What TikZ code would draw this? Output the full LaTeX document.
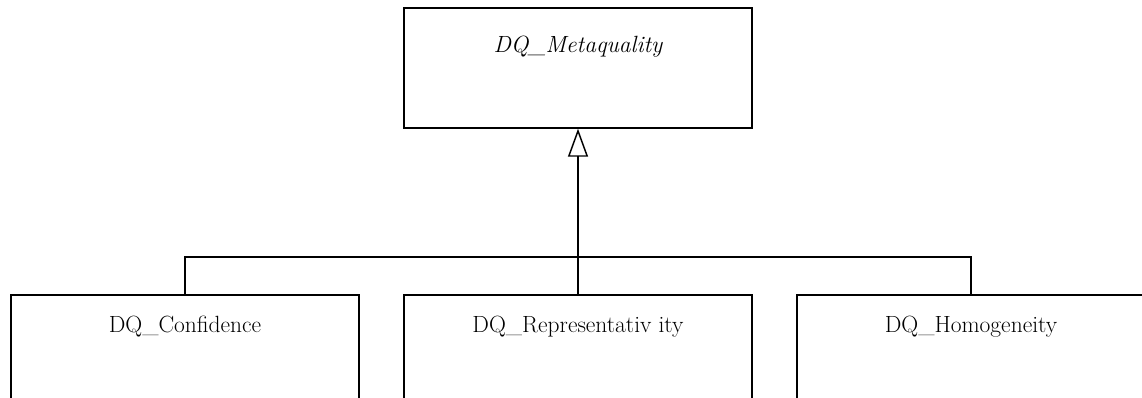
\documentclass[tikz,border=0pt]{standalone}
\usepackage{tikz}
\usetikzlibrary{arrows.meta}

\tikzset{
  classbox/.style={draw, line width=1.1pt, minimum width=348*0.75pt, minimum height=120*0.75pt, inner sep=0pt},
  classname/.style={anchor=base, inner sep=0.75pt, font=\fontsize{17.6}{20}\selectfont},
  genline/.style={line width=1.1pt},
  gentip/.style={-{Triangle[open, length=21pt, width=15pt, line width=1.1pt]}}
}

\begin{document}
\begin{tikzpicture}[x=0.75pt,y=0.75pt,yscale=-1,xscale=1]
        \useasboundingbox (0,0) rectangle (1142,398);
        \clip (0,0) rectangle (1142,398);
        
        %Shape: Rectangle [id:meta]
        \node [classbox] (meta) at (578,68) {};
        %Shape: Rectangle [id:conf]
        \node [classbox] (conf) at (185,355) {};
        %Shape: Rectangle [id:repr]
        \node [classbox] (repr) at (578,355) {};
        %Shape: Rectangle [id:homo]
        \node [classbox] (homo) at (971,355) {};
        
        %Straight Lines [id:junc]
        \coordinate (junc) at (578,257);
        \draw [genline] (conf.north) |- (junc) -| (homo.north);
        \draw [genline,gentip] (repr.north) -- (meta.south);
        
        % Text Node
        \node [classname] (metaname) at (578,53) {\itshape DQ\_Metaquality};
        % Text Node
        \node [classname] (confname) at (185,333) {DQ\_Confidence};
        % Text Node
        \node [classname] (reprname) at (578,333) {DQ\_Representativ ity};
        % Text Node
        \node [classname] (homoname) at (971,333) {DQ\_Homogeneity};
        
\end{tikzpicture}
\end{document}
